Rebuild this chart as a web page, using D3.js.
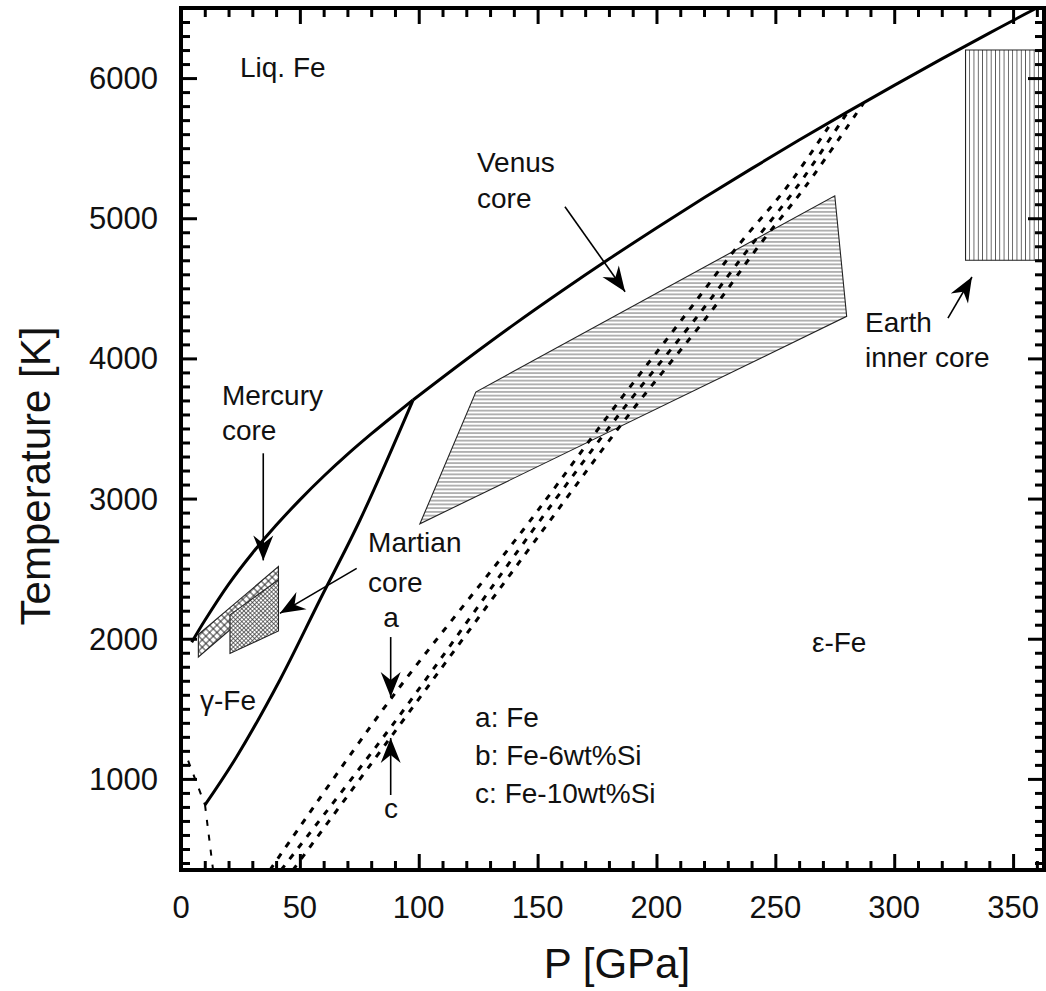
<!DOCTYPE html>
<html><head><meta charset="utf-8">
<script src="https://cdn.jsdelivr.net/npm/d3@7"></script>
<style>
body{margin:0;background:#fff}
svg text{font-family:"Liberation Sans", Arial, sans-serif;fill:#111}
</style></head>
<body><svg id="chart" width="1046" height="991"></svg>
<script>
// ---------- data (P in GPa, T in K) ----------
const xTickValues=[0,50,100,150,200,250,300,350];
const yTickValues=[1000,2000,3000,4000,5000,6000];
const meltGamma=[[4.5,1975],[10,2130],[20,2388],[30,2610],[40,2809],[50,2991],[60,3159],[70,3315],[80,3461],[90,3600],[97.6,3703]];
const meltEpsilon=[[97.6,3703],[120,3992],[140,4241],[160,4479],[180,4709],[200,4931],[220,5146],[240,5354],[260,5558],[280,5755],[300,5948],[320,6137],[340,6321],[360,6500],[366,6550]];
const gammaEps=[[97.6,3703],[75.3,2847],[58.5,2280],[41.6,1706],[23.4,1158],[10.1,814]];
const alphaGammaLow=[[10.1,814],[13.5,350]];
const alphaGammaLeft=[[3,1130],[10.1,814]];
const lineA=[[37.4,350],[87.9,1563],[143.9,2776],[180.5,3610],[212.8,4324],[233.9,4795],[254.9,5223],[274.3,5700]];
const lineB=[[42.1,350],[90.5,1420],[148.1,2776],[184.7,3610],[218.3,4324],[239.3,4795],[259.1,5223],[280.1,5750]];
const lineC=[[47.1,350],[87.9,1290],[152.3,2776],[188.9,3610],[222.5,4324],[242.7,4795],[262.5,5223],[287,5820]];
const venusCore=[[100.5,2820],[124,3760],[275,5160],[280,4300]];
const earthCore=[[330,4700],[330,6200],[364,6200],[364,4700]];
const mercuryCore=[[7.3,2030],[41,2515],[41,2360],[7.3,1870]];
const marsCore=[[20.6,2170],[41,2420],[41,2055],[20.6,1895]];
const arrows=[
  {from:[34.6,3323],to:[34.6,2559]},   // Mercury
  {from:[73.9,2502],to:[41.6,2181]},   // Mars
  {from:[161.5,5082],to:[186.8,4476]}, // Venus
  {from:[322.6,4288],to:[332.7,4581]}, // Earth
  {from:[88.2,2012],to:[88.2,1584]},   // a
  {from:[88.2,885],to:[88.2,1292]}     // c
];
const labels=[
  {t:"Liq. Fe",p:24.8,T:6008,a:"start"},
  {t:"Mercury",p:17.2,T:3668,a:"start"},
  {t:"core",p:17.2,T:3418,a:"start"},
  {t:"Martian",p:78.7,T:2619,a:"start"},
  {t:"core",p:78.7,T:2333,a:"start"},
  {t:"a",p:88.3,T:2084,a:"middle"},
  {t:"c",p:88.3,T:721,a:"middle"},
  {t:"γ-Fe",p:8.0,T:1491,a:"start"},
  {t:"ε-Fe",p:265.4,T:1905,a:"start"},
  {t:"a: Fe",p:123.7,T:1370,a:"start"},
  {t:"b: Fe-6wt%Si",p:123.7,T:1099,a:"start"},
  {t:"c: Fe-10wt%Si",p:123.7,T:828,a:"start"},
  {t:"Venus",p:124.5,T:5330,a:"start"},
  {t:"core",p:124.5,T:5073,a:"start"},
  {t:"Earth",p:287.7,T:4188,a:"start"},
  {t:"inner core",p:287.7,T:3939,a:"start"}
];

// ---------- scales ----------
const x=d3.scaleLinear().domain([0,363]).range([181,1044]);
const y=d3.scaleLinear().domain([350,6500]).range([870,8]);
const svg=d3.select("#chart");
const defs=svg.append("defs");

defs.append("clipPath").attr("id","plotclip").append("rect")
  .attr("x",x(0)).attr("y",y(6500)).attr("width",x(363)-x(0)).attr("height",y(350)-y(6500));

// hatch patterns
function hatch(id,size,angle,cross,sw,col){
  const p=defs.append("pattern").attr("id",id).attr("patternUnits","userSpaceOnUse")
    .attr("width",size).attr("height",size).attr("patternTransform",`rotate(${angle})`);
  p.append("rect").attr("width",size).attr("height",size).attr("fill","#fff");
  p.append("line").attr("x1",0).attr("x2",size).attr("y1",size/2).attr("y2",size/2)
    .attr("stroke",col).attr("stroke-width",sw);
  if(cross) p.append("line").attr("y1",0).attr("y2",size).attr("x1",size/2).attr("x2",size/2)
    .attr("stroke",col).attr("stroke-width",sw);
}
hatch("hHor",3.75,0,false,0.8,"#444");
hatch("hVer",4.3,90,false,0.8,"#444");
hatch("hMerc",5.2,45,true,0.9,"#222");
hatch("hMars",3.0,45,true,0.7,"#333");

// arrow marker
defs.append("marker").attr("id","arr").attr("markerUnits","userSpaceOnUse")
  .attr("viewBox","-28 -12 30 24").attr("refX",0).attr("refY",0)
  .attr("markerWidth",30).attr("markerHeight",24).attr("orient","auto")
  .append("path").attr("d","M0,0 L-25,-10 L-17,0 L-25,10 Z").attr("fill","#000");

const plot=svg.append("g").attr("clip-path","url(#plotclip)");
const poly=d3.line().x(d=>x(d[0])).y(d=>y(d[1]));
const smooth=d3.line().x(d=>x(d[0])).y(d=>y(d[1])).curve(d3.curveCatmullRom.alpha(0.5));

// regions
plot.append("path").attr("d",poly(venusCore)+"Z").attr("fill","url(#hHor)").attr("stroke","#222").attr("stroke-width",1.1);
plot.append("path").attr("d",poly(earthCore)+"Z").attr("fill","url(#hVer)").attr("stroke","#222").attr("stroke-width",1.1);
plot.append("path").attr("d",poly(mercuryCore)+"Z").attr("fill","url(#hMerc)").attr("stroke","#222").attr("stroke-width",1.1);
plot.append("path").attr("d",poly(marsCore)+"Z").attr("fill","url(#hMars)").attr("stroke","#222").attr("stroke-width",1.1);

// phase boundaries
[meltGamma,meltEpsilon,gammaEps].forEach(s=>{
  plot.append("path").attr("d",smooth(s)).attr("fill","none").attr("stroke","#000").attr("stroke-width",3);
});
[alphaGammaLow,alphaGammaLeft].forEach(s=>{
  plot.append("path").attr("d",poly(s)).attr("fill","none").attr("stroke","#000")
    .attr("stroke-width",2).attr("stroke-dasharray","6,9");
});
[lineA,lineB,lineC].forEach(s=>{
  plot.append("path").attr("d",smooth(s)).attr("fill","none").attr("stroke","#000")
    .attr("stroke-width",3).attr("stroke-dasharray","6,8");
});

// arrows
arrows.forEach(a=>{
  svg.append("line").attr("x1",x(a.from[0])).attr("y1",y(a.from[1]))
    .attr("x2",x(a.to[0])).attr("y2",y(a.to[1]))
    .attr("stroke","#000").attr("stroke-width",1.6).attr("marker-end","url(#arr)");
});

// labels
labels.forEach(l=>{
  svg.append("text").attr("x",x(l.p)).attr("y",y(l.T)).attr("text-anchor",l.a)
    .attr("font-size",28).text(l.t);
});

// ---------- axes / frame ----------
const xMinor=d3.range(10,363,10).filter(v=>v%50!==0);
const yMinor=d3.range(400,6500,100).filter(v=>v%1000!==0);
function axisSet(gen,tr,vals,size){
  const g=svg.append("g").attr("transform",tr).call(gen.tickValues(vals).tickSize(size).tickFormat(""));
  g.select(".domain").remove();
  g.selectAll("line").attr("stroke","#000").attr("stroke-width",3);
}
const X0=x(0),X1=x(363),Y0=y(350),Y1=y(6500);
axisSet(d3.axisBottom(x),`translate(0,${Y0})`,xTickValues,-16);
axisSet(d3.axisBottom(x),`translate(0,${Y0})`,xMinor,-9);
axisSet(d3.axisTop(x),`translate(0,${Y1})`,xTickValues,-16);
axisSet(d3.axisTop(x),`translate(0,${Y1})`,xMinor,-9);
axisSet(d3.axisLeft(y),`translate(${X0},0)`,yTickValues,-16);
axisSet(d3.axisLeft(y),`translate(${X0},0)`,yMinor,-9);
axisSet(d3.axisRight(y),`translate(${X1},0)`,yTickValues,-16);
axisSet(d3.axisRight(y),`translate(${X1},0)`,yMinor,-9);

svg.append("rect").attr("x",X0).attr("y",Y1).attr("width",X1-X0).attr("height",Y0-Y1)
  .attr("fill","none").attr("stroke","#000").attr("stroke-width",4);

// tick labels
xTickValues.forEach(v=>{
  svg.append("text").attr("x",x(v)).attr("y",918).attr("text-anchor","middle").attr("font-size",31).text(v);
});
yTickValues.forEach(v=>{
  svg.append("text").attr("x",158).attr("y",y(v)+11).attr("text-anchor","end").attr("font-size",31).text(v);
});
// titles
svg.append("text").attr("x",617).attr("y",978).attr("text-anchor","middle").attr("font-size",42).text("P [GPa]");
svg.append("text").attr("transform","translate(50,476) rotate(-90)").attr("text-anchor","middle")
  .attr("font-size",42).text("Temperature [K]");
</script>
</body></html>
